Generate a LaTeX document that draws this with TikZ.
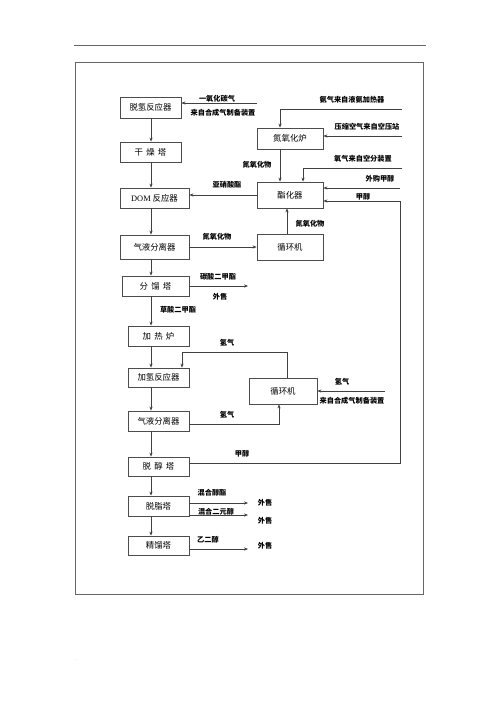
\documentclass[tikz,border=0pt]{standalone}
\usepackage{fontspec}
\setmainfont{Liberation Serif}
\newfontfamily\cjk{Noto Sans CJK SC}
\usetikzlibrary{arrows.meta}
\begin{document}
\begin{tikzpicture}[x=1pt,y=-1pt,
  box/.style={draw=black!70,line width=0.8pt,rectangle,inner sep=0pt,font=\cjk\fontsize{8.4}{9}\selectfont},
  lab/.style={inner sep=0pt,font=\cjk\bfseries\fontsize{7.2}{8}\selectfont},
  arr/.style={draw=black!75,line width=0.6pt,-{Stealth[length=4pt,width=3.2pt]}},
  ln/.style={draw=black!75,line width=0.6pt}]
\useasboundingbox (0,0) rectangle (500,708);
% page decorations
\draw[black!60,line width=0.8pt] (74,45) -- (426,45);
\node[text=black!40,font=\fontsize{5}{5}\selectfont,inner sep=0pt] (dot1) at (424,42) {.};
\node[text=black!40,font=\fontsize{5}{5}\selectfont,inner sep=0pt] (dot2) at (76,660) {.};
\draw[black!60,line width=1pt] (75,63) rectangle (423,594);

% left column boxes
\node[box,minimum width=61pt,minimum height=21pt] (b1) at (150.5,107.5) {脱氢反应器};
\node[box,minimum width=61pt,minimum height=20pt] (b2) at (150.5,152) {干\,\ 燥\,\ 塔};
\node[box,minimum width=69pt,minimum height=20pt] (b3) at (154.5,198) {{\rmfamily\fontsize{8.4}{9}\selectfont DOM} 反应器};
\node[box,minimum width=69pt,minimum height=24pt] (b4) at (154.5,247) {气液分离器};
\node[box,minimum width=67pt,minimum height=20pt] (b5) at (155.5,286) {分\,\ 馏\,\ 塔};
\node[box,minimum width=61pt,minimum height=20pt] (b6) at (158.5,336) {加\,\ 热\,\ 炉};
\node[box,minimum width=61pt,minimum height=19pt] (b7) at (158.5,377.5) {加氢反应器};
\node[box,minimum width=61pt,minimum height=20pt] (b8) at (158.5,421) {气液分离器};
\node[box,minimum width=61pt,minimum height=19pt] (b9) at (158.5,466.5) {脱\,\ 醇\,\ 塔};
\node[box,minimum width=61pt,minimum height=20pt] (b10) at (158.5,506) {脱脂塔};
\node[box,minimum width=61pt,minimum height=19pt] (b11) at (158.5,545.5) {精馏塔};

% right boxes
\node[box,minimum width=66pt,minimum height=21pt] (nox) at (290,138.5) {氮氧化炉};
\node[box,minimum width=66pt,minimum height=26pt] (est) at (290,195) {酯化器};
\node[box,minimum width=66pt,minimum height=26pt] (cyc1) at (290,247) {循环机};
\node[box,minimum width=68pt,minimum height=26pt] (cyc2) at (283,391) {循环机};

% column arrows
\foreach \a/\b in {b1/b2,b2/b3,b3/b4,b4/b5,b5/b6,b6/b7,b7/b8,b8/b9,b9/b10,b10/b11}
  \draw[arr] (\a.south -| 151,0) -- (\b.north -| 151,0);

% upper inputs
\coordinate (co) at (257,103);
\draw[arr] (co) -- (b1.east |- co);
\node[lab] (l1) at (217,99) {一氧化碳气};
\node[lab] (l2) at (223,113) {来自合成气制备装置};

\coordinate (nh3) at (402,109);
\draw[arr] (nh3) -- (280,109) -- (nox.north -| 280,0);
\node[lab] (l3) at (352,100) {氨气来自液氨加热器};

\coordinate (air) at (402,136);
\draw[arr] (air) -- (nox.east |- air);
\node[lab] (l4) at (367,127) {压缩空气来自空压站};

\draw[arr] (nox.south -| 280,0) -- (est.north -| 280,0);
\node[lab] (l5) at (257,165) {氮氧化物};

\coordinate (o2) at (402,168);
\draw[arr] (o2) -- (303,168) -- (est.north -| 303,0);
\node[lab] (l6) at (363,159) {氧气来自空分装置};

\coordinate (meo) at (400,188);
\draw[arr] (meo) -- (est.east |- meo);
\node[lab] (l7) at (380,179) {外购甲醇};

\draw[arr] (b9.east |- 0,463) -- (400,463) -- (400,201) -- (est.east |- 0,201);
\node[lab] (l8) at (363,197) {甲醇};
\node[lab] (l9) at (242,454) {甲醇};

\draw[arr] (est.west |- 0,195) -- (b3.east |- 0,195);
\node[lab] (l10) at (227,185) {亚硝酸酯};

\draw[arr] (b4.east |- 0,247) -- (cyc1.west |- 0,247);
\node[lab] (l11) at (217,237) {氮氧化物};

\draw[arr] (cyc1.north -| 287,0) -- (est.south -| 287,0);
\node[lab] (l12) at (310,224) {氮氧化物};

% fractionation outputs
\coordinate (dmc) at (248,286);
\draw[arr] (b5.east |- dmc) -- (dmc);
\node[lab] (l13) at (218,277) {碳酸二甲酯};
\node[lab] (l14) at (220,297) {外售};
\node[lab] (l15) at (178,310) {草酸二甲酯};

% hydrogen loop
\draw[arr] (cyc2.north -| 287,0) -- (287,352) -- (182,352) -- (b7.north -| 182,0);
\node[lab] (l16) at (227,343) {氢气};
\coordinate (h2) at (385,391);
\draw[arr] (h2) -- (cyc2.east |- h2);
\node[lab] (l17) at (342,382) {氢气};
\node[lab] (l18) at (352,401) {来自合成气制备装置};
\draw[arr] (b8.east |- 0,424) -- (279,424) -- (cyc2.south -| 279,0);
\node[lab] (l19) at (227,415) {氢气};

% products
\coordinate (p1) at (248,503);
\coordinate (p2) at (248,515);
\coordinate (p3) at (248,549);
\draw[arr] (b10.east |- p1) -- (p1);
\draw[arr] (b10.east |- p2) -- (p2);
\draw[arr] (b11.east |- p3) -- (p3);
\node[lab] (l20) at (212,493) {混合醇酯};
\node[lab] (l21) at (216,512) {混合二元醇};
\node[lab] (l22) at (208,540) {乙二醇};
\node[lab] (l23) at (265,503) {外售};
\node[lab] (l24) at (265,521) {外售};
\node[lab] (l25) at (265,546) {外售};
\end{tikzpicture}
\end{document}
